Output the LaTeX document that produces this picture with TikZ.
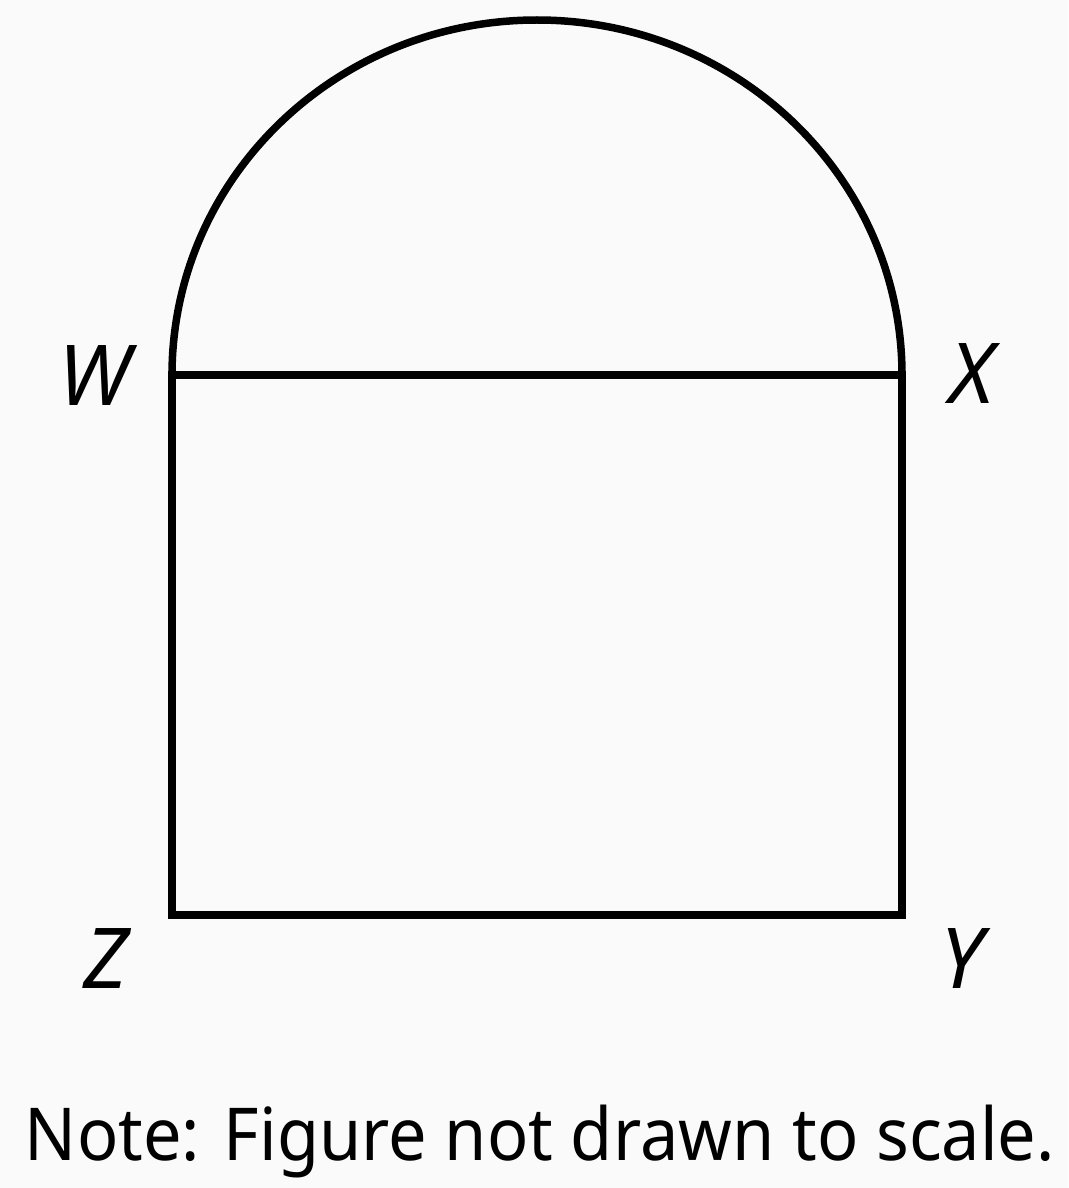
\documentclass[tikz,border=0pt]{standalone}
\usepackage{fontspec}
\usepackage{graphicx}
\setmainfont{Noto Sans}
\begin{document}
\begin{tikzpicture}[x=1pt,y=-1pt,
  shape line/.style={line width=7.5pt,line join=miter,line cap=butt},
  vlabel/.style={anchor=base,inner sep=0pt,font=\fontsize{84}{90}\selectfont\itshape},
  notelabel/.style={anchor=base,inner sep=0pt,font=\fontsize{73}{80}\selectfont}]
\fill[fill={rgb,255:red,250;green,250;blue,251}] (0,0) rectangle (1068,1188);
\useasboundingbox (0,0) rectangle (1068,1188);
\coordinate (W) at (172,375);
\coordinate (X) at (902,375);
\coordinate (Y) at (902,915);
\coordinate (Z) at (172,915);
\draw[shape line] (X) -- (Y) -- (Z) -- (W) -- cycle;
\draw[shape line] (W) arc[start angle=180,end angle=0,x radius=365pt,y radius=355pt];
\node[vlabel] (lW) at (94,405) {W};
\node[vlabel] (lX) at (972,403) {X};
\node[vlabel] (lZ) at (106,988) {Z};
\node[vlabel] (lY) at (962,988) {Y};
\node[notelabel] (note) at (540,1160) {\resizebox{1030pt}{\height}{Note: Figure not drawn to scale.}};
\end{tikzpicture}
\end{document}
